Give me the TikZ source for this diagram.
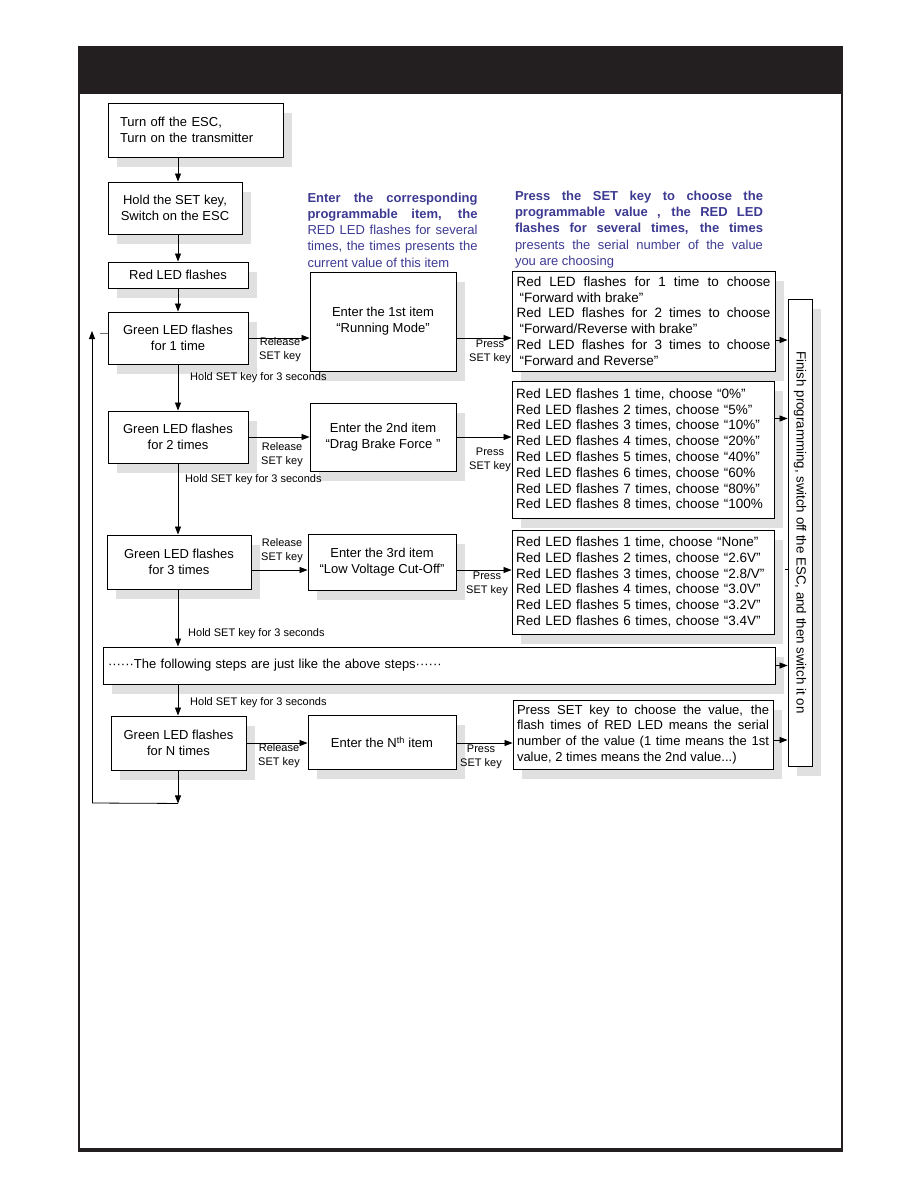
\documentclass[tikz,border=0pt]{standalone}
\usepackage{fontspec}
\setmainfont{Liberation Sans}
\usetikzlibrary{arrows.meta,shadows}
\definecolor{notecol}{HTML}{3D3A92}
\definecolor{headcol}{HTML}{231F20}
\setlength{\parindent}{0pt}
\begin{document}
\begin{tikzpicture}[
  x=1pt, y=-1pt,
  box/.style={draw, fill=white, line width=0.9pt, align=center, inner sep=3pt,
    font=\fontsize{13}{16}\selectfont,
    drop shadow={shadow xshift=9pt, shadow yshift=-10pt, fill=black!12, opacity=1}},
  valbox/.style={box, align=left, text width=254pt, font=\fontsize{13.5}{15.8}\selectfont},
  note/.style={text=notecol, align=justify, inner sep=0pt, font=\fontsize{13}{16.2}\selectfont},
  lbl/.style={align=center, inner sep=0pt, font=\fontsize{11}{14}\selectfont},
  holdlbl/.style={anchor=west, inner sep=0pt, font=\fontsize{11}{12}\selectfont},
  arrow/.style={-{Triangle[length=8pt,width=6pt]}, line width=0.8pt}
]
\useasboundingbox (0,0) rectangle (918,1188);
% page frame
\fill[headcol] (78,46) rectangle (843,94);
\draw[headcol, line width=2pt] (79,94) -- (79,1150);
\draw[headcol, line width=2pt] (842,94) -- (842,1150);
\draw[headcol, line width=4pt] (78,1150) -- (843,1150);

\coordinate (spine) at (178,0);

% left column
\node[box, minimum width=175pt, minimum height=54pt, text width=151pt, align=left] (off) at (195.5,130) {Turn off the ESC,\\Turn on the transmitter};
\node[box, minimum width=134pt, minimum height=52pt] (keyon) at (175,208) {Hold the SET key,\\Switch on the ESC};
\node[box, minimum width=140pt, minimum height=26pt] (red) at (178,275) {Red LED flashes};
\node[box, minimum width=140pt, minimum height=52pt] (g1) at (178,338) {Green LED flashes\\for 1 time};
\node[box, minimum width=140pt, minimum height=52pt] (g2) at (178,437) {Green LED flashes\\for 2 times};
\node[box, minimum width=144pt, minimum height=54pt] (g3) at (179,562) {Green LED flashes\\for 3 times};
\node[box, minimum width=672pt, minimum height=37pt, text width=662pt, align=left] (follow) at (439,665.5) {······The following steps are just like the above steps······};
\node[box, minimum width=135pt, minimum height=54pt] (gN) at (178.5,743) {Green LED flashes\\for N times};

% items
\node[box, minimum width=146pt, minimum height=99pt] (e1) at (383,321.5) {Enter the 1st item\\“Running Mode”};
\node[box, minimum width=146pt, minimum height=68pt] (e2) at (383,437) {Enter the 2nd item\\“Drag Brake Force ”};
\node[box, minimum width=148pt, minimum height=56pt] (e3) at (382,562) {Enter the 3rd item\\“Low Voltage Cut-Off”};
\node[box, minimum width=148pt, minimum height=54pt] (eN) at (382,742) {Enter the N\textsuperscript{th} item};

% values
\node[valbox, minimum width=263pt, minimum height=100pt, align=justify] (v1) at (643.5,321) {Red LED flashes for 1 time to choose\linebreak
 \hspace*{3pt}“Forward with brake”\\
Red LED flashes for 2 times to choose\linebreak
 \hspace*{3pt}“Forward/Reverse with brake”\\
Red LED flashes for 3 times to choose\linebreak
 \hspace*{3pt}“Forward and Reverse”};
\node[valbox, minimum width=262pt, minimum height=137pt] (v2) at (643,449.5) {Red LED flashes 1 time, choose “0\%”\\
Red LED flashes 2 times, choose “5\%”\\
Red LED flashes 3 times, choose “10\%”\\
Red LED flashes 4 times, choose “20\%”\\
Red LED flashes 5 times, choose “40\%”\\
Red LED flashes 6 times, choose “60\%\\
Red LED flashes 7 times, choose “80\%”\\
Red LED flashes 8 times, choose “100\%};
\node[valbox, minimum width=262pt, minimum height=104pt] (v3) at (643,582) {Red LED flashes 1 time, choose “None”\\
Red LED flashes 2 times, choose “2.6V”\\
Red LED flashes 3 times, choose “2.8/V”\\
Red LED flashes 4 times, choose “3.0V”\\
Red LED flashes 5 times, choose “3.2V”\\
Red LED flashes 6 times, choose “3.4V”};
\node[valbox, minimum width=260pt, minimum height=69pt, text width=252pt, align=justify, font=\fontsize{13}{15.8}\selectfont] (vN) at (643,734.5) {Press SET key to choose the value, the\linebreak
flash times of RED LED means the serial\linebreak
number of the value (1 time means the 1st\linebreak
value, 2 times means the 2nd value...)};

\node[box, minimum width=24pt, minimum height=467pt] (fin) at (800,532.5) {};
\node[rotate=-90, inner sep=0pt, font=\fontsize{13.3}{15}\selectfont] (fintext) at (fin) {Finish programming, switch off the ESC, and then switch it on};

% blue notes
\node[note, text width=170pt] (info1) at (392.5,230) {\textbf{Enter the corresponding}\linebreak
\textbf{programmable item, the}\linebreak
RED LED flashes for several\linebreak
times, the times presents the\linebreak
current value of this item};
\node[note, text width=248pt] (info2) at (639,229.5) {\textbf{Press the SET key to choose the}\linebreak
\textbf{programmable value , the RED LED}\linebreak
\textbf{flashes for several times, the times}\linebreak
presents the serial number of the value\linebreak
you are choosing};

% key labels
\node[lbl] (rel1) at (280,350) {Release\\SET key};
\node[lbl] (prs1) at (490,352) {Press\\SET key};
\node[lbl] (rel2) at (282,455) {Release\\SET key};
\node[lbl] (prs2) at (490,460) {Press\\SET key};
\node[lbl] (rel3) at (282,551) {Release\\SET key};
\node[lbl] (prs3) at (487,584) {Press\\SET key};
\node[lbl] (relN) at (279,756) {Release\\SET key};
\node[lbl] (prsN) at (481,757) {Press\\SET key};
\node[holdlbl] (hold1) at (190,378) {Hold SET key for 3 seconds};
\node[holdlbl] (hold2) at (185,480) {Hold SET key for 3 seconds};
\node[holdlbl] (hold3) at (188,634) {Hold SET key for 3 seconds};
\node[holdlbl] (hold4) at (190,703) {Hold SET key for 3 seconds};

% main flow
\draw[arrow] (off.south -| spine) -- (keyon.north -| spine);
\draw[arrow] (keyon.south -| spine) -- (red.north -| spine);
\draw[arrow] (red.south -| spine) -- (g1.north -| spine);
\draw[arrow] (g1.south -| spine) -- (g2.north -| spine);
\draw[arrow] (g2.south -| spine) -- (g3.north -| spine);
\draw[arrow] (g3.south -| spine) -- (follow.north -| spine);
\draw[arrow] (follow.south -| spine) -- (gN.north -| spine);

% loop back
\draw[arrow] (gN.south -| spine) -- ++(0,33) coordinate (loopend);
\coordinate (loopcorner) at (92,803);
\coordinate (looptop) at (92,331);
\draw[line width=0.8pt] (loopend) -- (loopcorner);
\draw[arrow] (loopcorner) -- (looptop);
\draw[black!55, line width=0.8pt] (100,333) -- ([yshift=5pt]g1.west);

% release / press
\draw[arrow] (g1.east) -- (g1.east -| e1.west);
\draw[arrow] (g1.east -| e1.east) -- (g1.east -| v1.west);
\draw[arrow] (g2.east) -- (g2.east -| e2.west);
\draw[arrow] (g2.east -| e2.east) -- (g2.east -| v2.west);
\coordinate (row3) at (0,570);
\draw[arrow] (g3.east |- row3) -- (e3.west |- row3);
\draw[arrow] (e3.east |- row3) -- (v3.west |- row3);
\draw[arrow] (gN.east) -- (gN.east -| eN.west);
\draw[arrow] (gN.east -| eN.east) -- (gN.east -| vN.west);

% to finish
\draw[arrow] ([yshift=-19pt]v1.east) -- ([yshift=-19pt]v1.east -| fin.west);
\draw[arrow] ([yshift=31pt]v2.east) -- ([yshift=31pt]v2.east -| fin.west);
\draw[line width=0.8pt] ([yshift=13pt]v3.east -| fin.west) -- ++(-3,0);
\draw[arrow] (follow.east) -- (follow.east -| fin.west);
\draw[arrow] ([yshift=-5.5pt]vN.east) -- ([yshift=-5.5pt]vN.east -| fin.west);
\end{tikzpicture}
\end{document}
